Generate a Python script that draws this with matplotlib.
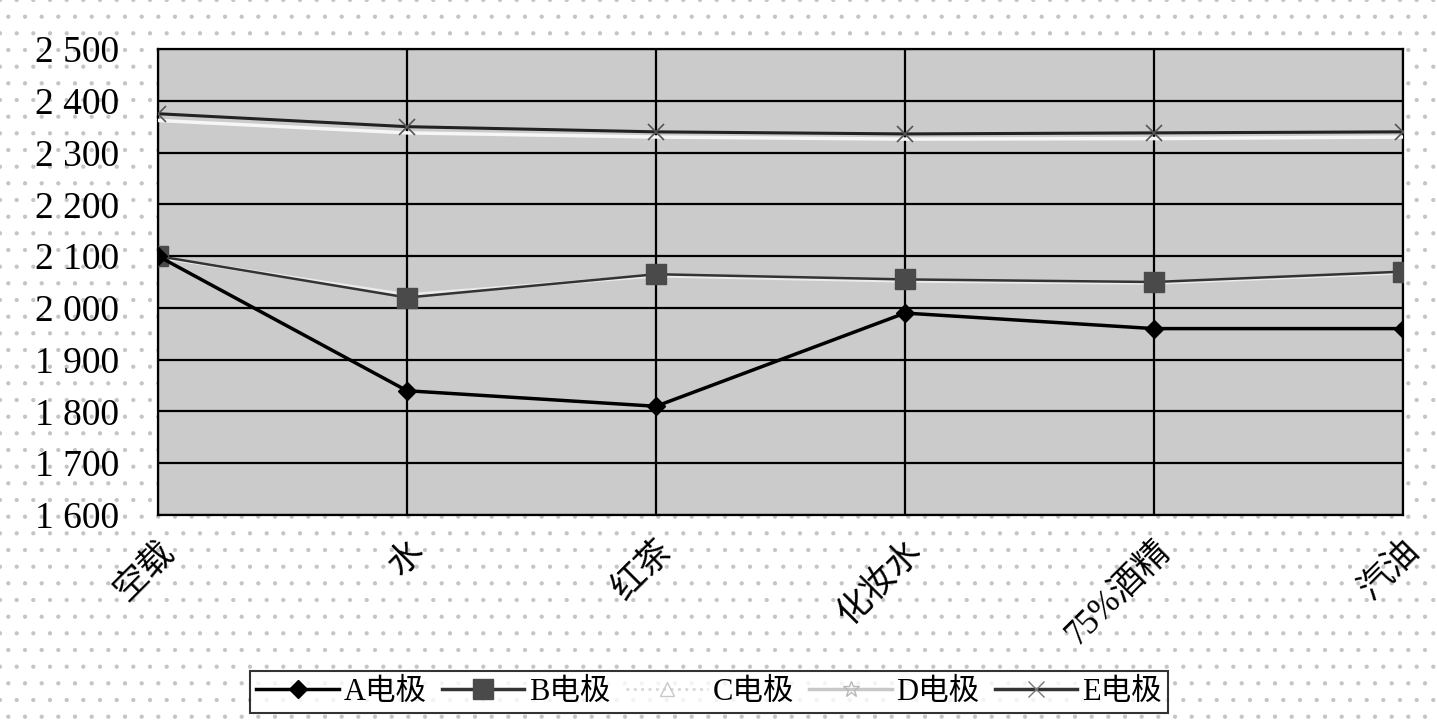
import matplotlib
matplotlib.use("Agg")
import matplotlib.pyplot as plt
import numpy as np

categories = ["空载", "水", "红茶", "化妆水", "75%酒精", "汽油"]
series_A = [2100, 1840, 1810, 1990, 1960, 1960]
series_B = [2100, 2020, 2065, 2055, 2050, 2070]
series_C = [2098, 2025, 2062, 2052, 2048, 2068]
series_D = [2362, 2338, 2330, 2326, 2327, 2330]
series_E = [2375, 2350, 2340, 2336, 2338, 2340]
labels = ["A电极", "B电极", "C电极", "D电极", "E电极"]
yticks = [1600, 1700, 1800, 1900, 2000, 2100, 2200, 2300, 2400, 2500]
ytick_labels = ["1 600", "1 700", "1 800", "1 900", "2 000", "2 100", "2 200", "2 300", "2 400", "2 500"]

fam = ["Liberation Serif", "Noto Sans CJK SC", "DejaVu Sans"]
plt.rcParams["font.family"] = fam
plt.rcParams["hatch.linewidth"] = 0.6

fig = plt.figure(figsize=(14.37, 7.28), dpi=100)
fig.patch.set_facecolor("white")

# sparse dotted background
bg = plt.Rectangle((0, 0), 1, 1, transform=fig.transFigure, facecolor="white",
                   edgecolor="#c4c4c4", hatch=".", linewidth=0, zorder=-10)
fig.patches.append(bg)

ax = fig.add_axes([158/1437, 1-515/728, (1403-158)/1437, (515-49)/728])
ax.set_facecolor("#cbcbcb")
x = np.arange(len(categories))

ax.plot(x, series_C, color="#ebebeb", lw=2.5, zorder=3)
ax.plot(x, series_D, color="#f6f6f6", lw=2.5, zorder=3)
ax.plot(x, series_E, color="#222222", lw=2.2, marker="x", ms=12, mew=1.2, mec="#555555", zorder=4)
ax.plot(x, series_B, color="#333333", lw=1.8, marker="s", ms=15, mfc="#4a4a4a", mec="#4a4a4a", zorder=5)
ax.plot(x, series_A, color="black", lw=2.5, marker="D", ms=9, zorder=6)

ax.set_xlim(0, len(categories) - 1)
ax.set_ylim(1600, 2500)
ax.set_yticks(yticks)
ax.set_yticklabels(ytick_labels, fontsize=27)
ax.set_xticks(x)
ax.set_xticklabels(categories, fontsize=25, rotation=45, ha="right", rotation_mode="anchor")
ax.tick_params(axis="both", length=0)
ax.tick_params(axis="y", pad=28)
ax.tick_params(axis="x", pad=14)
ax.grid(True, color="black", lw=1.6)
ax.set_axisbelow(True)
for s in ax.spines.values():
    s.set_color("black")
    s.set_linewidth(1.6)

# legend
handles = [
    plt.Line2D([], [], color="black", lw=2.5, marker="D", ms=9),
    plt.Line2D([], [], color="#333333", lw=2.5, marker="s", ms=14, mfc="#4a4a4a", mec="#4a4a4a"),
    plt.Line2D([], [], color="#d8d8d8", lw=2, ls=":", marker="^", ms=10, mfc="none", mec="#c8c8c8"),
    plt.Line2D([], [], color="#c8c8c8", lw=2.5, marker="*", ms=12, mfc="none", mec="#b8b8b8"),
    plt.Line2D([], [], color="#333333", lw=2.5, marker="x", ms=12, mec="#777777"),
]
leg = fig.legend(handles, labels, loc="center", bbox_to_anchor=((235+1183)/2/1437, 1-692/728),
                 ncol=5, fontsize=22, frameon=True, fancybox=False, handlelength=2.7,
                 columnspacing=0.5, handletextpad=0.15, borderpad=0.2)
leg.get_frame().set_edgecolor("black")
leg.get_frame().set_linewidth(1.5)
leg.get_frame().set_facecolor("white")

fig.savefig("out.png", dpi=100)
